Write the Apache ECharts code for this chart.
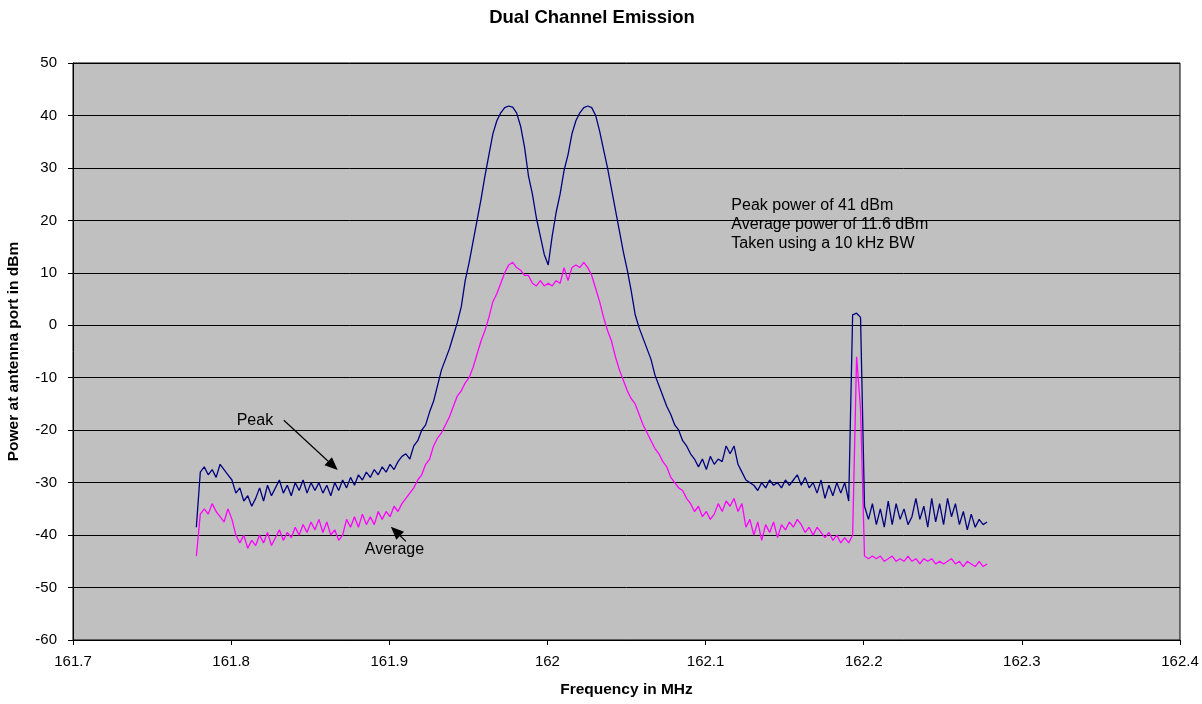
<!DOCTYPE html>
<html>
<head>
<meta charset="utf-8">
<script src="https://cdn.jsdelivr.net/npm/echarts@6/dist/echarts.min.js"></script>
<style>
html,body{margin:0;padding:0;background:#fff;}
#chart{width:1202px;height:704px;}
</style>
</head>
<body>
<div id="chart"></div>
<script>
// Sweep settings of the analyser trace (MHz)
const sweepStart = 161.778;
const sweepStep = 0.0025;

// Peak trace (dBm), one value per sweep point
const peakValues = [
-38.5,-28,-27,-28.5,-27.5,-29,-26.5,-27.5,-28.5,-29.5,
-32,-31,-33.5,-32.5,-34.5,-33,-31,-33.5,-30.5,-32.5,
-31,-29.5,-32,-30.5,-32.5,-30,-31.5,-29.5,-32,-30,
-31.5,-30,-32,-30.5,-32.5,-30,-31.5,-29.5,-31,-29,
-30.5,-28.5,-29.5,-28,-29,-27.5,-28.5,-27,-28,-26.5,
-27.5,-26,-25,-24.5,-25.5,-23,-22,-20,-19,-16.5,
-14.5,-11.5,-8.5,-6.5,-4.5,-2,0.5,3.5,8.5,12,
16,20,24,28.5,32.5,36.5,39,40.5,41.5,41.8,
41.6,40.5,38,34,28.5,25,20.5,17,13.5,11.5,
17,21.5,25,29.5,32.5,36.5,39,40.5,41.5,41.8,
41.5,40,37,33.5,30,26,22,18,14,10.5,
6.5,2,-0.5,-2.5,-4.5,-6.5,-9.5,-11.5,-13.5,-15.5,
-17,-19,-20,-22,-23,-24.5,-25.5,-27,-25.5,-27.5,
-25,-26.5,-25.5,-26,-23,-24.5,-23,-26.5,-28,-29.5,
-30,-30.5,-31.5,-30,-31,-29.5,-30.5,-30,-31,-29.5,
-30.5,-29.5,-28.5,-30.5,-29,-31,-30,-32,-29.5,-33,
-30.5,-32.5,-30,-32,-30,-33.5,2,2.3,1.5,-34.5,
-37,-34,-38,-35,-38.5,-33.5,-38,-34,-37,-35,
-38,-36.5,-33,-37,-34.5,-38.5,-33,-37.5,-34,-38,
-33,-36.5,-34,-38,-35.5,-39,-36,-38.5,-37,-38,
-37.5
];

// Average trace (dBm), one value per sweep point
const averageValues = [
-44,-36,-35,-36,-34,-35.5,-36.5,-37.5,-35,-37,
-40,-41.5,-40,-42.5,-41,-42,-40,-41.5,-39.5,-42,
-40.5,-39,-41,-39.5,-40.5,-38.5,-40,-38,-39.5,-37.5,
-39,-37,-39.5,-37.5,-40,-39,-41,-40,-37,-38.5,
-36.5,-38.5,-36,-38,-36.5,-38,-35.5,-37,-35.5,-36.5,
-34.5,-35.5,-34,-33,-32,-31,-29.5,-28.5,-26.5,-25.5,
-23,-21.5,-20.5,-19,-17.5,-15.5,-13.5,-12.5,-11,-10,
-8,-5.5,-3,-1,1.5,4.5,6,8,10,11.5,
12,11,10.5,9.5,9.5,8,7.5,8.5,7.5,8,
7.5,8.5,8,11,8.5,11,11.5,11,12,11,
9.5,7,4.5,1.5,-1,-3,-6,-8.5,-10.5,-12.5,
-14,-15,-17,-19,-20.5,-22,-23.5,-24.5,-26,-27,
-29,-30,-31,-31.5,-33,-34,-35.5,-34.5,-36.5,-35.5,
-37,-36,-34,-35.5,-33.5,-34.5,-33,-35.5,-34,-38.5,
-37,-40,-37.5,-41,-38,-39.5,-37.5,-40.5,-38,-39,
-37.5,-38.5,-37,-38,-39.5,-38.5,-40,-38.5,-39.5,-40.5,
-39.5,-41,-40,-41.5,-40.5,-41.5,-40,-6,-16,-44,
-44.5,-44,-44.5,-44,-45,-44.5,-44,-45,-44.5,-45,
-44,-45,-44.5,-45.5,-44.5,-45,-44.5,-45.5,-45,-45.5,
-45,-44.5,-45.5,-45,-46,-45,-45.5,-46,-45,-46,
-45.5
];

// Axis ticks
const xMin = 161.7, xMax = 162.4, xStep = 0.1;
const yMin = -60, yMax = 50, yStep = 10;

// Annotations (data coordinates)
const notes = [
  {text: 'Peak', at: [161.8035, -18.2]},
  {text: 'Average', at: [161.8845, -42.8]}
];
const arrows = [
  {from: [161.8333, -18.1], to: [161.8674, -27.6]},
  {from: [161.9105, -41.2], to: [161.9010, -38.4]}
];
const infoLines = ['Peak power of 41 dBm', 'Average power of 11.6 dBm', 'Taken using a 10 kHz BW'];
const infoAt = [162.1163, 22.9];

const toPairs = vals => vals.map((v, i) => [+(sweepStart + i * sweepStep).toFixed(4), v]);

const FONT = '"Liberation Sans", Arial, sans-serif';
const chart = echarts.init(document.getElementById('chart'));

const option = {
  animation: false,
  backgroundColor: '#ffffff',
  title: {
    text: 'Dual Channel Emission',
    left: 587, top: 3, textAlign: 'center',
    textStyle: {fontFamily: FONT, fontSize: 18.5, fontWeight: 'bold', color: '#000'}
  },
  grid: {left: 73, right: 22, top: 63, bottom: 64, show: true, containLabel: false, outerBoundsMode: 'none',
    backgroundColor: '#c0c0c0', borderColor: '#000', borderWidth: 1},
  xAxis: {
    type: 'value', min: xMin, max: xMax, interval: xStep,
    name: 'Frequency in MHz', nameLocation: 'middle', nameGap: 42,
    nameTextStyle: {fontFamily: FONT, fontSize: 15.5, fontWeight: 'bold', color: '#000'},
    axisLine: {show: true, onZero: false, lineStyle: {color: '#000', width: 1}},
    axisTick: {show: true, inside: false, length: 5, lineStyle: {color: '#000'}},
    axisLabel: {fontFamily: FONT, fontSize: 15, color: '#000', margin: 14,
      formatter: v => String(parseFloat(v.toFixed(1)))},
    splitLine: {show: false}
  },
  yAxis: {
    type: 'value', min: yMin, max: yMax, interval: yStep,
    name: 'Power at antenna port in dBm', nameLocation: 'middle', nameGap: 51,
    nameTextStyle: {fontFamily: FONT, fontSize: 15.5, fontWeight: 'bold', color: '#000'},
    axisLine: {show: true, onZero: false, lineStyle: {color: '#000', width: 1}},
    axisTick: {show: true, inside: false, length: 5, lineStyle: {color: '#000'}},
    axisLabel: {fontFamily: FONT, fontSize: 15, color: '#000', margin: 16},
    splitLine: {show: true, lineStyle: {color: '#000', width: 1}}
  },
  series: [
    {
      name: 'Peak', type: 'line', data: toPairs(peakValues), showSymbol: false,
      lineStyle: {color: '#000080', width: 1.3}, itemStyle: {color: '#000080'}, z: 3
    },
    {
      name: 'Average', type: 'line', data: toPairs(averageValues), showSymbol: false,
      lineStyle: {color: '#ff00ff', width: 1.3}, itemStyle: {color: '#ff00ff'}, z: 2
    }
  ]
};
chart.setOption(option);

const g = [];
notes.forEach(n => {
  const p = chart.convertToPixel({gridIndex: 0}, n.at);
  g.push({type: 'text', x: p[0], y: p[1], silent: true, z: 10,
    style: {text: n.text, font: '16px ' + FONT, fill: '#000', textAlign: 'left', textVerticalAlign: 'middle'}});
});
arrows.forEach(a => {
  const p0 = chart.convertToPixel({gridIndex: 0}, a.from);
  const p1 = chart.convertToPixel({gridIndex: 0}, a.to);
  const dx = p1[0] - p0[0], dy = p1[1] - p0[1];
  const len = Math.sqrt(dx * dx + dy * dy);
  const ux = dx / len, uy = dy / len;
  const hl = 13, hw = 5.5;
  const bx = p1[0] - ux * hl, by = p1[1] - uy * hl;
  g.push({type: 'line', silent: true, z: 10,
    shape: {x1: p0[0], y1: p0[1], x2: bx, y2: by},
    style: {stroke: '#000', lineWidth: 1.2}});
  g.push({type: 'polygon', silent: true, z: 10,
    shape: {points: [[p1[0], p1[1]], [bx - uy * hw, by + ux * hw], [bx + uy * hw, by - ux * hw]]},
    style: {fill: '#000'}});
});
const ip = chart.convertToPixel({gridIndex: 0}, infoAt);
infoLines.forEach((t, i) => {
  g.push({type: 'text', x: ip[0], y: ip[1] + i * 19, silent: true, z: 10,
    style: {text: t, font: '16px ' + FONT, fill: '#000', textAlign: 'left', textVerticalAlign: 'middle'}});
});
chart.setOption({graphic: g});
</script>
</body>
</html>
